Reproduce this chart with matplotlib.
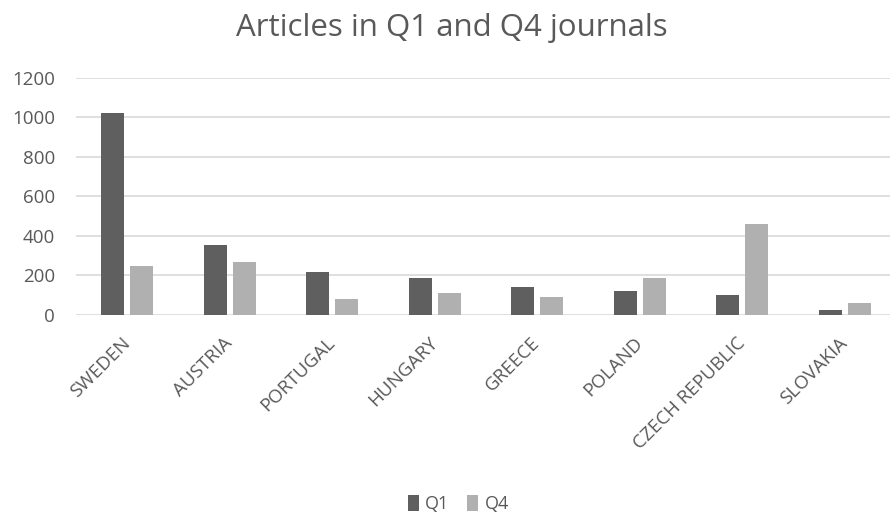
import numpy as np
import matplotlib.pyplot as plt

countries = ["SWEDEN", "AUSTRIA", "PORTUGAL", "HUNGARY", "GREECE",
             "POLAND", "CZECH REPUBLIC", "SLOVAKIA"]
q1 = [1020, 354, 217, 189, 140, 120, 101, 24]
q4 = [246, 266, 81, 110, 89, 189, 461, 61]

text_color = "#595959"
plt.rcParams["font.family"] = ["Open Sans", "DejaVu Sans"]

fig = plt.figure(figsize=(8.9, 5.13), dpi=100)
ax = fig.add_axes([76 / 890, 198 / 513, 820 / 890, (315 - 77.7) / 513])

x = np.arange(len(countries))
w = 0.224
ax.bar(x - 0.142, q1, width=w, color="#5f5f5f", label="Q1", zorder=3)
ax.bar(x + 0.142, q4, width=w, color="#b0b0b0", label="Q4", zorder=3)

ax.set_xlim(-0.5, len(countries) - 0.5)
ax.set_ylim(0, 1200)
ax.set_yticks(range(0, 1201, 200))
ax.yaxis.grid(True, color="#d9d9d9", linewidth=1.2, zorder=0)
for s in ax.spines.values():
    s.set_visible(False)
ax.tick_params(axis="both", length=0, labelcolor=text_color, labelsize=13.5)
ax.tick_params(axis="y", pad=15)
ax.tick_params(axis="x", pad=18)
ax.set_xticks(x)
ax.set_xticklabels(countries, rotation=45, ha="right", va="center",
                   rotation_mode="anchor")

fig.text(0.508, 0.945, "Articles in Q1 and Q4 journals", ha="center", va="center",
         fontsize=22.5, color=text_color)

fig.legend(loc="lower center", bbox_to_anchor=(0.515, -0.032), ncol=2, frameon=False,
           handlelength=0.6, handleheight=1.0, handletextpad=0.35, columnspacing=1.0,
           labelcolor=text_color, fontsize=13)

fig.savefig("out.png", dpi=100)
